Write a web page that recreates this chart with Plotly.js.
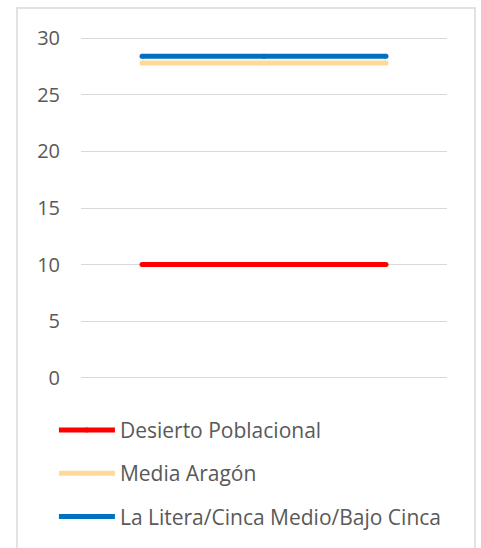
<!DOCTYPE html>
<html>
<head>
<meta charset="utf-8">
<script src="https://cdn.plot.ly/plotly-3.0.1.min.js"></script>
<style>html,body{margin:0;padding:0;background:#fff;}#chart{width:481px;height:548px;}</style>
</head>
<body>
<div id="chart"></div>
<script>
var categories = ["1", "2", "3"];
var seriesNames = ["Desierto Poblacional", "Media Aragón", "La Litera/Cinca Medio/Bajo Cinca"];
var desierto = [10, 10, 10];
var mediaAragon = [27.8, 27.8, 27.8];
var laLitera = [28.4, 28.4, 28.4];
var yTicks = [0, 5, 10, 15, 20, 25, 30];
var colors = ["#FF0000", "#FFD996", "#0070C0"];

var seriesValues = [desierto, mediaAragon, laLitera];
var traces = seriesValues.map(function (vals, i) {
  return {
    x: categories,
    y: vals,
    name: seriesNames[i],
    type: "scatter",
    mode: "lines+markers",
    line: {color: colors[i], width: 5},
    marker: {color: colors[i], size: 5},
    legendgroup: "g" + i,
    hoverinfo: "skip"
  };
});

var layout = {
  width: 481,
  height: 548,
  margin: {l: 81, r: 34, t: 37, b: 169, autoexpand: false},
  paper_bgcolor: "#ffffff",
  plot_bgcolor: "#ffffff",
  font: {family: "'Open Sans', Lato, sans-serif", color: "#595959"},
  showlegend: true,
  legend: {
    orientation: "v",
    x: -0.074,
    xanchor: "left",
    y: -0.09,
    yanchor: "top",
    font: {size: 21, color: "#595959"},
    itemwidth: 56,
    tracegroupgap: 13,
    bgcolor: "rgba(0,0,0,0)"
  },
  xaxis: {
    type: "category",
    range: [-0.5, 2.5],
    showticklabels: false,
    showgrid: false,
    zeroline: false,
    showline: false,
    ticks: ""
  },
  yaxis: {
    range: [-0.1, 30.1],
    tickvals: yTicks,
    ticktext: yTicks.map(String),
    showgrid: true,
    gridcolor: "#D9D9D9",
    gridwidth: 1,
    zeroline: false,
    showline: false,
    ticks: "",
    ticklabelstandoff: 20,
    tickfont: {size: 20, color: "#595959"}
  },
  shapes: [{
    type: "rect",
    xref: "paper", yref: "paper",
    x0: (17 - 81) / 366, x1: (475 - 81) / 366,
    y0: (379 - 560) / 342, y1: (379 - 8) / 342,
    line: {color: "#D9D9D9", width: 1.5},
    fillcolor: "rgba(0,0,0,0)",
    layer: "below"
  }]
};

Plotly.newPlot("chart", traces, layout, {displayModeBar: false, staticPlot: true});
</script>
</body>
</html>
